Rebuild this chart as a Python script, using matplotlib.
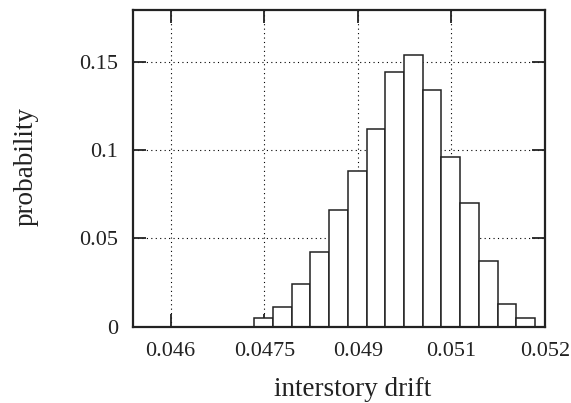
import numpy as np
import matplotlib
matplotlib.use('Agg')
from matplotlib import pyplot as plt

# --- data ---
bin_edges = [0.04734, 0.04764, 0.04794, 0.04824, 0.04854, 0.04884, 0.04914, 0.04944,
             0.04974, 0.05004, 0.05034, 0.05064, 0.05094, 0.05124, 0.05154, 0.05184]
probability = [0.005, 0.011, 0.024, 0.042, 0.066, 0.088, 0.112, 0.144,
               0.154, 0.134, 0.096, 0.070, 0.037, 0.013, 0.005]

x_ticks = [0.046, 0.0475, 0.049, 0.0505, 0.052]
x_tick_labels = ['0.046', '0.0475', '0.049', '0.051', '0.052']
y_ticks = [0, 0.05, 0.1, 0.15]
y_tick_labels = ['0', '0.05', '0.1', '0.15']

plt.rcParams['font.family'] = ['Liberation Serif', 'DejaVu Serif']
fSize_tick = 16
fSize_lab = 19.5

fig = plt.figure(figsize=(5.71, 4.03), dpi=100)
ax = fig.add_axes([0.2329, 0.1898, 0.7216, 0.7866])

widths = np.diff(bin_edges)
ax.bar(bin_edges[:-1], probability, width=widths, align='edge',
       facecolor='white', edgecolor='#222222', linewidth=1.1, zorder=3)

ax.set_xlim(0.045396, 0.052)
ax.set_ylim(0, 0.1795)

ax.set_xticks(x_ticks)
ax.set_xticklabels(x_tick_labels, fontsize=fSize_tick)
ax.set_yticks(y_ticks)
ax.set_yticklabels(y_tick_labels, fontsize=fSize_tick)

ax.tick_params(direction='in', length=9.5, width=1.3, top=True, right=True,
               color='#222222', labelcolor='#222222')
ax.tick_params(axis='x', pad=11)
ax.tick_params(axis='y', pad=10.5)

ax.grid(True, color='black', linestyle=(0, (1, 3)), linewidth=0.8, zorder=1)
ax.set_axisbelow(True)

for sp in ax.spines.values():
    sp.set_linewidth(1.6)
    sp.set_color('#222222')
    sp.set_zorder(4)

ax.set_xlabel('interstory drift', fontsize=fSize_lab, color='#222222')
ax.xaxis.label.set_va('baseline')
ax.xaxis.set_label_coords(0.532, -0.22)

ax.set_ylabel('probability', fontsize=fSize_lab, color='#222222')
ax.yaxis.label.set_va('center')
ax.yaxis.set_label_coords(-0.26, 0.506)

plt.savefig('out.png', dpi=100)
